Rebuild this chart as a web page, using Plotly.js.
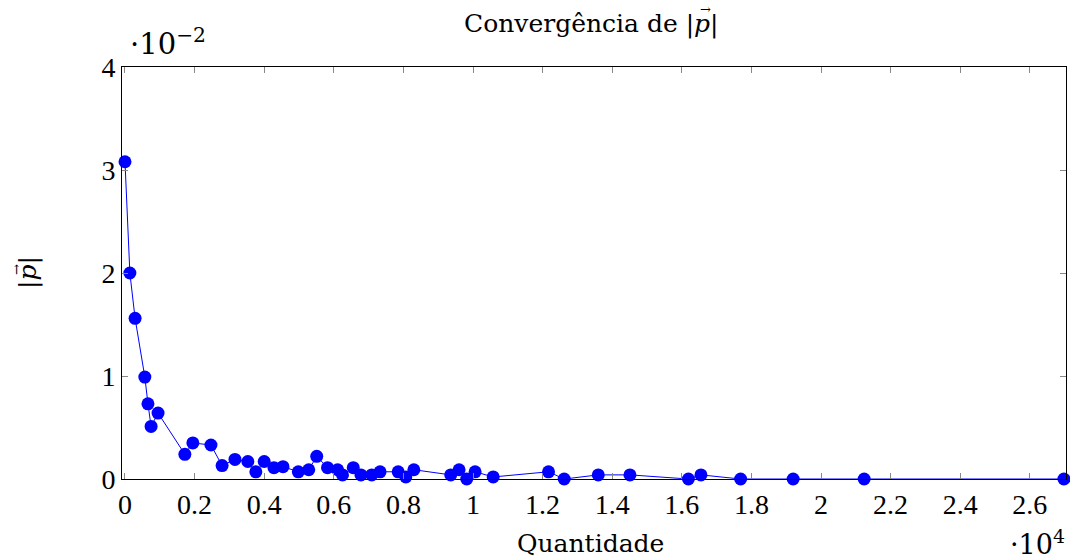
<!DOCTYPE html>
<html>
<head>
<meta charset="utf-8">
<script src="https://cdn.plot.ly/plotly-3.0.1.min.js"></script>
<style>html,body{margin:0;padding:0;background:#fff;}#chart{width:1070px;height:560px;}</style>
</head>
<body>
<div id="chart"></div>
<script>
// Quantidade (raw units)
var quantidade = [0, 140, 290, 570, 660, 750, 950, 1720, 1950, 2470, 2790, 3160, 3530, 3760, 4000, 4280, 4540,
  4980, 5280, 5510, 5820, 6110, 6250, 6560, 6780, 7090, 7330, 7850, 8070, 8300, 9360, 9600, 9820, 10060, 10580,
  12170, 12620, 13600, 14510, 16190, 16550, 17690, 19200, 21240, 26980];
// |p| (raw units)
var modP = [0.0308, 0.0200, 0.0156, 0.0099, 0.0073, 0.0051, 0.0064, 0.0024, 0.0035, 0.0033, 0.0013, 0.0019, 0.0017, 0.0007, 0.0017, 0.0011, 0.0012,
  0.0007, 0.0009, 0.0022, 0.0011, 0.0009, 0.0004, 0.0011, 0.0004, 0.0004, 0.0007, 0.0007, 0.0002, 0.0009, 0.0004, 0.0009, 0.0000, 0.0007, 0.0002,
  0.0007, 0.0000, 0.0004, 0.0004, 0.0000, 0.0004, 0.0000, 0.0000, 0.0000, 0.0000];

var xTickVals = [0, 2000, 4000, 6000, 8000, 10000, 12000, 14000, 16000, 18000, 20000, 22000, 24000, 26000];
var xTickLabels = ["0", "0.2", "0.4", "0.6", "0.8", "1", "1.2", "1.4", "1.6", "1.8", "2", "2.2", "2.4", "2.6"];
var yTickVals = [0, 0.01, 0.02, 0.03, 0.04];
var yTickLabels = ["0", "1", "2", "3", "4"];

var serif = "Liberation Serif, serif";
var wide = "DejaVu Serif, serif";

var trace = {
  x: quantidade, y: modP, type: "scatter", mode: "lines+markers",
  line: {color: "#0000ff", width: 1},
  marker: {color: "#0000ff", size: 13},
  cliponaxis: false, hoverinfo: "none"
};

function pixAnn(text, px, py, size, extra) {
  // px, py are page pixel positions converted to paper coordinates
  var a = {text: text, xref: "paper", yref: "paper",
    x: (px - 122) / 944, y: (479 - py) / 412,
    xanchor: "center", yanchor: "middle", showarrow: false,
    font: {family: wide, size: size, color: "#000"}};
  for (var k in extra) a[k] = extra[k];
  return a;
}

var layout = {
  width: 1070, height: 560,
  margin: {l: 122, r: 4, t: 67, b: 81},
  paper_bgcolor: "#fff", plot_bgcolor: "#fff",
  showlegend: false,
  font: {family: serif, size: 28, color: "#000"},
  xaxis: {
    range: [-86, 27040], tickvals: xTickVals, ticktext: xTickLabels,
    ticks: "inside", ticklen: 6, tickcolor: "#888", tickwidth: 1,
    showgrid: false, zeroline: false, showline: true, linecolor: "#000", linewidth: 1, mirror: "ticks",
    tickfont: {family: serif, size: 28, color: "#000"}
  },
  yaxis: {
    range: [0, 0.04], tickvals: yTickVals, ticktext: yTickLabels,
    ticks: "inside", ticklen: 6, tickcolor: "#888", tickwidth: 1,
    showgrid: false, zeroline: false, showline: true, linecolor: "#000", linewidth: 1, mirror: "ticks",
    tickfont: {family: serif, size: 28, color: "#000"}
  },
  annotations: [
    pixAnn("Convergência de |<i>p</i>|", 591, 24, 25, {}),
    pixAnn("→", 705, 10, 13, {}),
    pixAnn("Quantidade", 590, 543, 25, {}),
    pixAnn("|<i>p</i>|", 28, 273, 25, {textangle: -90}),
    pixAnn("→", 16, 270, 13, {textangle: -90}),
    pixAnn("·10<sup>−2</sup>", 168, 42, 29, {}),
    pixAnn("·10<sup>4</sup>", 1037, 542, 27, {})
  ]
};

Plotly.newPlot("chart", [trace], layout, {staticPlot: true, displayModeBar: false});
</script>
</body>
</html>
